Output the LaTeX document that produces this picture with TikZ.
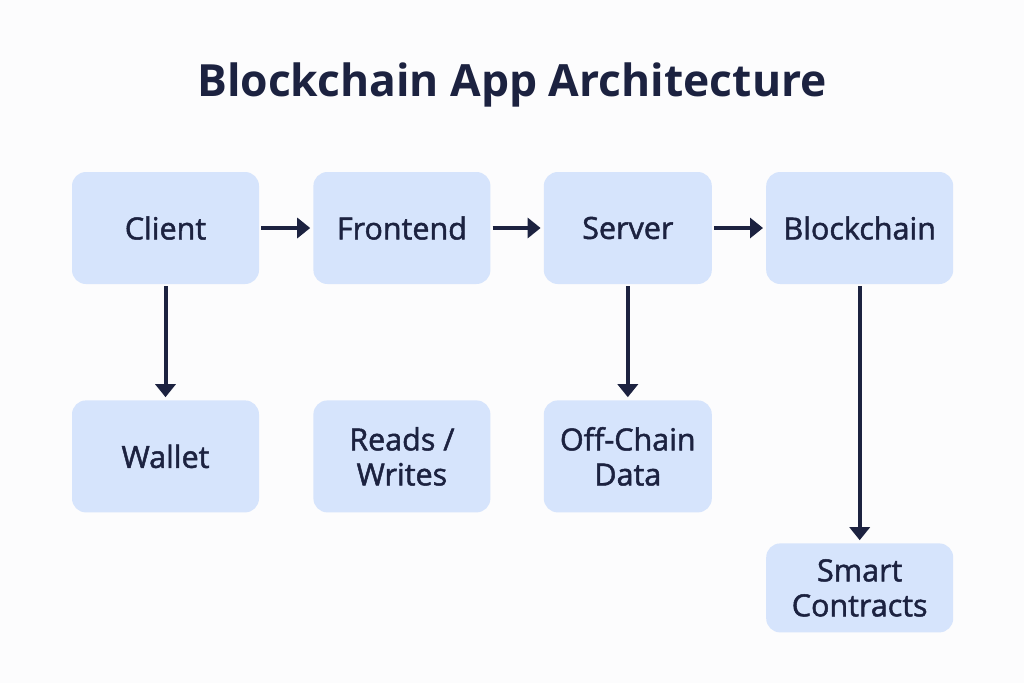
\documentclass[tikz,border=0pt]{standalone}
\usepackage{fontspec}
\setmainfont{Open Sans}
\newfontfamily\labelfont{Open Sans}[FakeBold=1.6]
\usepackage{xcolor}
\usepackage{tikz}
\usetikzlibrary{arrows.meta,positioning}
\definecolor{ink}{HTML}{1C2240}
\definecolor{boxfill}{HTML}{D6E4FC}
\definecolor{paper}{HTML}{FCFCFD}

\begin{document}
\begin{tikzpicture}[
    x=1pt, y=-1pt,
    node distance=54pt,
    stage/.style={rectangle, rounded corners=14pt, fill=boxfill, draw=none,
                  text=ink, minimum width=#1, minimum height=112pt,
                  align=center, inner sep=0pt,
                  font=\labelfont\fontsize{30.5}{35}\selectfont},
    stage/.default=187pt,
    heading/.style={font=\bfseries\fontsize{44.4}{54}\selectfont, text=ink},
    arrow/.style={-{Triangle[length=13pt,width=20pt]}, line width=4pt, draw=ink,
                  shorten <=2pt, shorten >=3pt}
]

% page
\fill[paper] (0,0) rectangle (1024,683);
\useasboundingbox (0,0) rectangle (1024,683);

% title
\node[heading] (title) at (512,85) {Blockchain App Architecture};

% top row
\node[stage] (client) at (165.5,228) {Client};
\node[stage=177pt, right=of client] (frontend) {Frontend};
\node[stage=168pt, right=53pt of frontend] (server) {Server};
\node[stage, right=54pt of server] (chain) {Blockchain};

% lower row
\node[stage, below=116pt of client] (wallet) {Wallet};
\node[stage=177pt, below=116pt of frontend] (rw) {Reads /\\Writes};
\node[stage=168pt, below=116pt of server] (offchain) {Off-Chain\\Data};
\node[stage, minimum height=89pt, below=259pt of chain] (contracts) {Smart\\Contracts};

% arrows
\draw[arrow] (client) -- (frontend);
\draw[arrow] (frontend) -- (server);
\draw[arrow] (server) -- (chain);
\draw[arrow] (client) -- (wallet);
\draw[arrow] (server) -- (offchain);
\draw[arrow] (chain) -- (contracts);

\end{tikzpicture}
\end{document}
